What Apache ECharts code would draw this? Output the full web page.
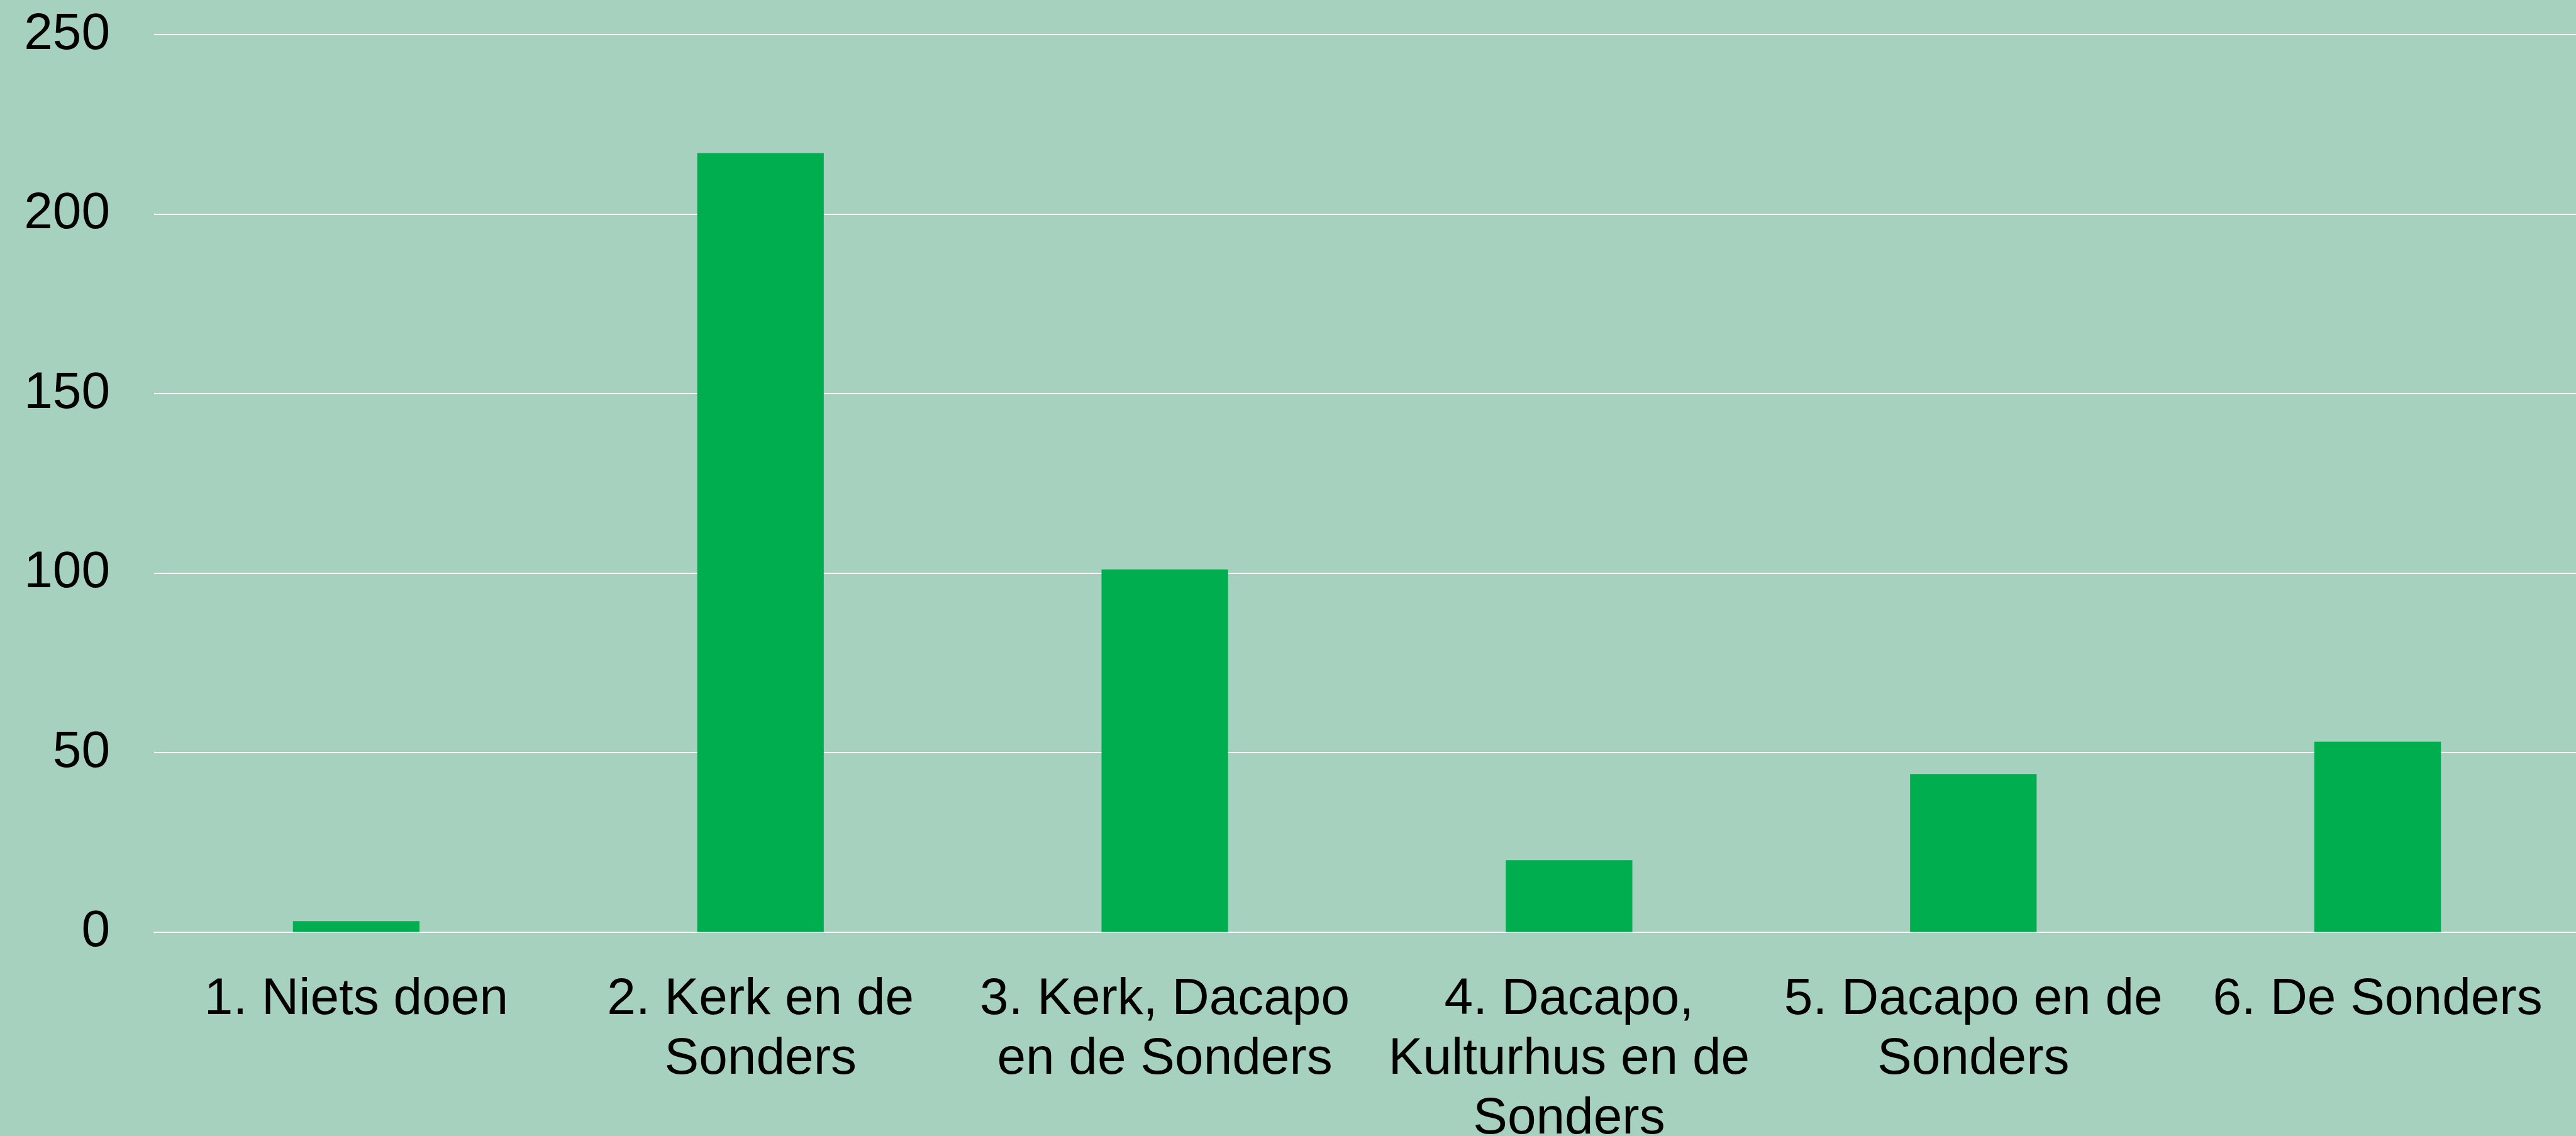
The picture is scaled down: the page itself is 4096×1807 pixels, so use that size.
<!DOCTYPE html>
<html>
<head>
<meta charset="utf-8">
<style>
  html, body { margin: 0; padding: 0; background: #A6D1BE; }
  #chart { width: 4096px; height: 1807px; }
</style>
<script src="https://cdn.jsdelivr.net/npm/echarts@6/dist/echarts.min.js"></script>
</head>
<body>
<div id="chart"></div>
<script>
const categories = [
  '1. Niets doen',
  '2. Kerk en de\nSonders',
  '3. Kerk, Dacapo\nen de Sonders',
  '4. Dacapo,\nKulturhus en de\nSonders',
  '5. Dacapo en de\nSonders',
  '6. De Sonders'
];
const values = [3, 217, 101, 20, 44, 53];
const yTicks = { min: 0, max: 250, interval: 50 };

const chart = echarts.init(document.getElementById('chart'), null, { renderer: 'canvas' });
const font = "'Liberation Sans', Arial, sans-serif";
chart.setOption({
  backgroundColor: '#A6D1BE',
  animation: false,
  grid: { left: 245, right: -6, top: 55, bottom: 324.5, containLabel: false, outerBoundsMode: 'none' },
  xAxis: {
    type: 'category',
    data: categories,
    axisTick: { show: false },
    axisLine: { show: true, lineStyle: { color: '#ffffff', width: 2 } },
    axisLabel: {
      interval: 0,
      color: '#000000',
      fontFamily: font,
      fontSize: 82,
      lineHeight: 95,
      margin: 60,
      align: 'center'
    }
  },
  yAxis: {
    type: 'value',
    min: yTicks.min,
    max: yTicks.max,
    interval: yTicks.interval,
    axisLine: { show: false },
    axisTick: { show: false },
    splitLine: { show: true, lineStyle: { color: '#ffffff', width: 2 } },
    axisLabel: {
      color: '#000000',
      fontFamily: font,
      fontSize: 82,
      margin: 70
    }
  },
  series: [{
    type: 'bar',
    data: values,
    barWidth: '31.3%',
    itemStyle: { color: '#00AE4F' }
  }]
});
</script>
</body>
</html>
